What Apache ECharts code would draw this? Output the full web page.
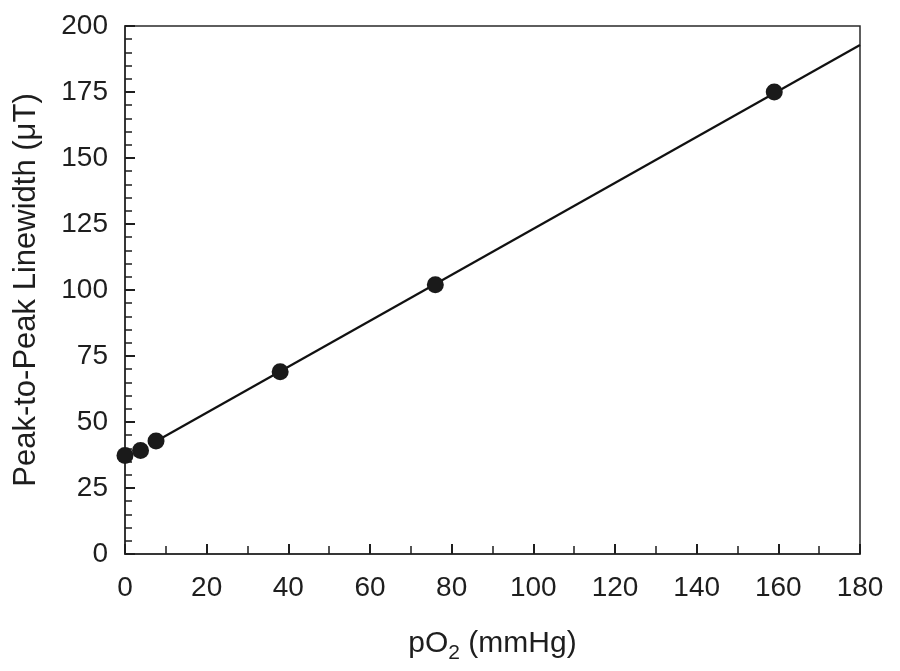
<!DOCTYPE html>
<html>
<head>
<meta charset="utf-8">
<script src="https://cdn.jsdelivr.net/npm/echarts@6/dist/echarts.min.js"></script>
<style>html,body{margin:0;padding:0;background:#fff;}#c{width:900px;height:671px;}</style>
</head>
<body>
<div id="c"></div>
<script>
// pO2 (mmHg) of measured points
var pO2 = [0, 3.8, 7.6, 38, 76, 159];
// peak-to-peak linewidth (µT)
var linewidth = [37.3, 39.2, 42.8, 69, 102, 175];
// fitted line end points
var fitX = [7.6, 180];
var fitY = [42.7, 192.8];
var xTicks = [0, 20, 40, 60, 80, 100, 120, 140, 160, 180];
var yTicks = [0, 25, 50, 75, 100, 125, 150, 175, 200];

var font = 'Liberation Sans, Arial, Helvetica, sans-serif';
var ink = '#1e1e1e';
var chart = echarts.init(document.getElementById('c'));
chart.setOption({
  backgroundColor: '#fff',
  animation: false,
  grid: {left: 125, right: 40, top: 26, bottom: 117, show: true, borderColor: '#2a2a2a', borderWidth: 1.5},
  xAxis: {
    type: 'value', min: xTicks[0], max: xTicks[xTicks.length - 1], interval: 20,
    axisLine: {show: true, lineStyle: {color: '#2a2a2a', width: 1.5}},
    axisTick: {show: true, inside: true, length: 10, lineStyle: {color: ink, width: 2}},
    minorTick: {show: true, splitNumber: 2, length: 8, lineStyle: {color: ink, width: 1.5}},
    splitLine: {show: false},
    axisLabel: {margin: 20, fontSize: 28, color: ink, fontFamily: font},
    name: '{a|pO}{s|2}{a| (mmHg)}',
    nameLocation: 'middle', nameGap: 70,
    nameTextStyle: {
      rich: {
        a: {fontSize: 30, color: ink, fontFamily: font, lineHeight: 40, verticalAlign: 'middle'},
        s: {fontSize: 21, color: ink, fontFamily: font, lineHeight: 40, verticalAlign: 'bottom'}
      }
    }
  },
  yAxis: {
    type: 'value', min: yTicks[0], max: yTicks[yTicks.length - 1], interval: 25,
    axisLine: {show: true, lineStyle: {color: '#2a2a2a', width: 1.5}},
    axisTick: {show: true, inside: true, length: 10, lineStyle: {color: ink, width: 2}},
    minorTick: {show: true, splitNumber: 5, length: 7, lineStyle: {color: ink, width: 1.5}},
    splitLine: {show: false},
    axisLabel: {margin: 17, fontSize: 28, color: ink, fontFamily: font},
    name: 'Peak-to-Peak Linewidth (\u03bcT)',
    nameLocation: 'middle', nameGap: 83,
    nameTextStyle: {fontSize: 31, color: ink, fontFamily: font}
  },
  series: [
    {
      type: 'line',
      data: fitX.map(function (x, i) { return [x, fitY[i]]; }),
      symbol: 'none',
      lineStyle: {color: '#111', width: 2.2},
      z: 2
    },
    {
      type: 'scatter',
      data: pO2.map(function (x, i) { return [x, linewidth[i]]; }),
      symbol: 'circle', symbolSize: 17,
      itemStyle: {color: '#1a1a1a', opacity: 1},
      z: 3
    }
  ]
});
</script>
</body>
</html>
